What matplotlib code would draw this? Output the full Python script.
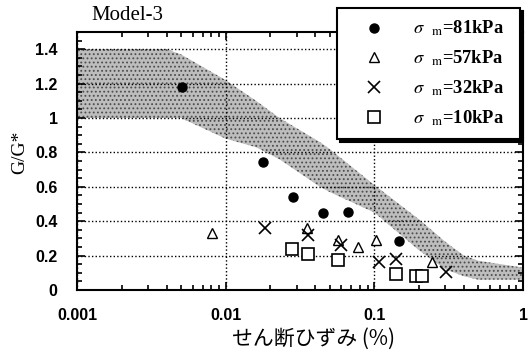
import numpy as np
import matplotlib.pyplot as plt
from matplotlib.ticker import FixedLocator, MultipleLocator, LogLocator, NullFormatter

plt.rcParams['mathtext.fontset'] = 'stix'

# データ
x81 = [0.0051, 0.0177, 0.0282, 0.0448, 0.066, 0.147]
y81 = [1.178, 0.746, 0.54, 0.45, 0.455, 0.285]
x57 = [0.0081, 0.035, 0.0565, 0.078, 0.103, 0.245]
y57 = [0.333, 0.36, 0.29, 0.25, 0.29, 0.163]
x32 = [0.0183, 0.0355, 0.06, 0.108, 0.14, 0.304]
y32 = [0.36, 0.32, 0.26, 0.163, 0.18, 0.105]
x10 = [0.0277, 0.0355, 0.0565, 0.14, 0.19, 0.21]
y10 = [0.24, 0.21, 0.175, 0.093, 0.08, 0.08]

# 網掛け範囲
band_x = [0.001, 0.004, 0.005, 0.01, 0.016, 0.023, 0.043, 0.05, 0.1, 0.2, 0.3, 0.4, 0.5, 1.0]
band_hi = [1.4, 1.4, 1.37, 1.22, 1.1, 1.0, 0.86, 0.82, 0.61, 0.41, 0.28, 0.2, 0.17, 0.13]
band_lo = [1.0, 1.0, 1.0, 0.88, 0.83, 0.76, 0.6, 0.57, 0.45, 0.23, 0.12, 0.08, 0.06, 0.06]

labels = [r'$\sigma_{\ \ \ \rm m}$=81kPa  ', r'$\sigma_{\ \ \ \rm m}$=57kPa  ',
          r'$\sigma_{\ \ \ \rm m}$=32kPa  ', r'$\sigma_{\ \ \ \rm m}$=10kPa  ']

fig = plt.figure(figsize=(5.28, 3.54), dpi=100)
ax = fig.add_axes([0.1458, 0.1808, 0.845, 0.7288])

plt.rcParams['hatch.color'] = '0.3'
plt.rcParams['hatch.linewidth'] = 0.8
ax.fill_between(band_x, band_lo, band_hi, facecolor='0.74', edgecolor='0.3',
                hatch='....', linewidth=0, zorder=0)

ax.plot(x81, y81, 'o', color='k', ms=6.5, ls='none', label=labels[0], zorder=3)
ax.plot(x57, y57, '^', mfc='white', mec='k', ms=7.5, mew=1, ls='none', label=labels[1], zorder=3)
ax.plot(x32, y32, 'x', color='k', ms=8, mew=1.2, ls='none', label=labels[2], zorder=3)
ax.plot(x10, y10, 's', mfc='white', mec='k', ms=8, mew=1.2, ls='none', label=labels[3], zorder=3)

ax.set_xscale('log')
ax.set_xlim(0.001, 1)
ax.set_ylim(0, 1.5)
ax.xaxis.set_major_locator(FixedLocator([0.001, 0.01, 0.1, 1]))
ax.xaxis.set_minor_locator(LogLocator(base=10, subs=np.arange(2, 10)))
ax.xaxis.set_minor_formatter(NullFormatter())
ax.set_xticklabels(['0.001', '0.01', '0.1', '1'])
ax.yaxis.set_major_locator(FixedLocator([0, 0.2, 0.4, 0.6, 0.8, 1.0, 1.2, 1.4]))
ax.set_yticklabels(['0', '0.2', '0.4', '0.6', '0.8', '1', '1.2', '1.4'])
ax.yaxis.set_minor_locator(MultipleLocator(0.05))

ax.tick_params(which='both', direction='in', top=True, right=True, width=1.2)
ax.tick_params(which='major', length=6, labelsize=11.5)
ax.tick_params(axis='x', which='major', pad=13)
ax.tick_params(axis='y', which='major', pad=14)
ax.tick_params(which='minor', length=3.5)
for lab in ax.get_xticklabels() + ax.get_yticklabels():
    lab.set_fontfamily('Liberation Sans')
    lab.set_fontweight('bold')
for s in ax.spines.values():
    s.set_linewidth(1.5)

ax.grid(True, which='major', color='k', ls=(0, (1, 1.6)), lw=1, zorder=1)

ax.set_ylabel('G/G*', fontsize=14, family='Liberation Serif')
ax.yaxis.set_label_coords(-0.110, 0.535)
ax.set_xlabel('せん断ひずみ (%)', fontsize=15, family=['Noto Sans CJK JP', 'DejaVu Sans'])
ax.xaxis.set_label_coords(0.531, -0.145)
fig.text(0.174, 0.957, 'Model-3', fontsize=15, family='Liberation Serif', ha='left', va='center')

leg = ax.legend(loc='upper left', bbox_to_anchor=(337 / 528, 1 - 8 / 354), bbox_transform=fig.transFigure,
                frameon=True, fancybox=False, shadow={'color': 'k', 'alpha': 1},
                framealpha=1, edgecolor='k', borderpad=0.6, labelspacing=0.56,
                handlelength=2.8, handletextpad=0.7, borderaxespad=0,
                prop={'family': 'Liberation Serif', 'size': 13.3, 'weight': 'bold'})
leg.get_frame().set_linewidth(1.5)
leg.set_zorder(5)

fig.savefig('out.png', dpi=100)
